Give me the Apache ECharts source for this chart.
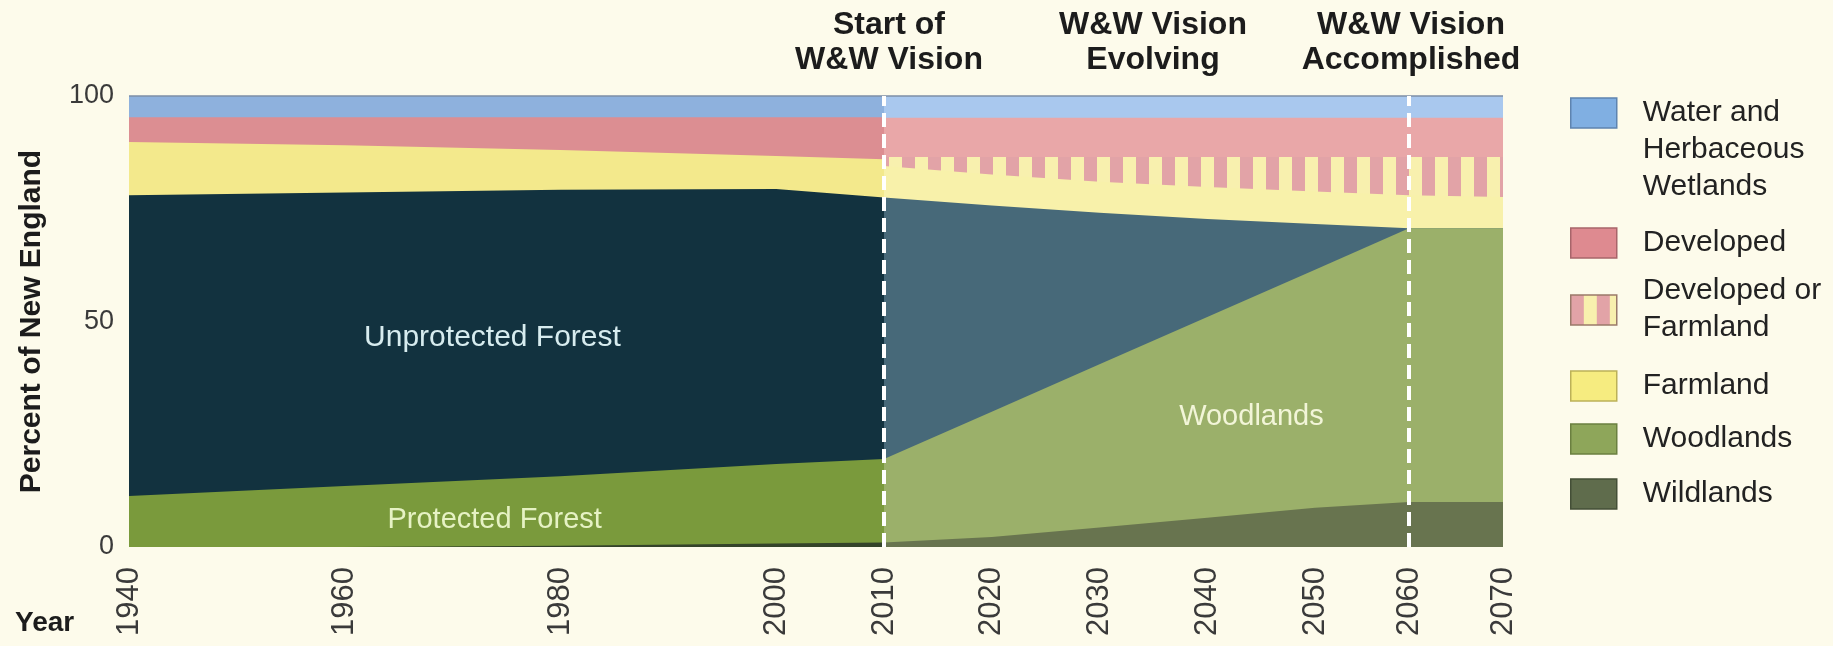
<!DOCTYPE html>
<html>
<head>
<meta charset="UTF-8">
<title>Wildlands and Woodlands</title>
<script src="https://cdn.jsdelivr.net/npm/echarts@6/dist/echarts.min.js"></script>
<style>
  html, body { margin: 0; padding: 0; background: #fdfbeb; }
  #main { width: 1833px; height: 646px; }
</style>
</head>
<body>
<div id="main"></div>
<script type="text/javascript">
// years on the axis
var yearsPast = [1940, 1960, 1980, 2000, 2010];
var yearsVision = [2010, 2020, 2030, 2040, 2050, 2060, 2070];
var tickYears = [1940, 1960, 1980, 2000, 2010, 2020, 2030, 2040, 2050, 2060, 2070];
var yTicks = [0, 50, 100];

// percent of New England 1940-2010, bottom of the stack first
var wildPast = [0, 0, 0.3, 0.8, 1.0];
var protectedPast = [11.3, 13.5, 15.4, 17.6, 18.5];
var unprotectedPast = [66.7, 65.1, 63.5, 61.0, 58.0];
var farmPast = [11.8, 10.5, 8.8, 7.3, 8.5];
var developedPast = [5.5, 6.2, 7.3, 8.6, 9.3];
var waterPast = [4.7, 4.7, 4.7, 4.7, 4.7];

// 2010-2070, the W&W vision
var wildVision = [1.0, 2.2, 4.3, 6.5, 8.7, 10.0, 10.0];
var woodVision = [18.5, 27.8, 36.2, 44.5, 52.8, 60.7, 60.7];
var unprotectedVision = [58.0, 45.7, 33.6, 21.7, 10.1, 0, 0];
var farmVision = [7.0, 6.9, 6.9, 7.1, 7.2, 7.3, 6.9];
var devOrFarmVision = [2.0, 3.9, 5.5, 6.7, 7.7, 8.5, 8.9];
var developedVision = [8.7, 8.7, 8.7, 8.7, 8.7, 8.7, 8.7];
var waterVision = [4.8, 4.8, 4.8, 4.8, 4.8, 4.8, 4.8];

var dividerYears = [2010, 2060];
var headers = ['Start of\nW&W Vision', 'W&W Vision\nEvolving', 'W&W Vision\nAccomplished'];
var legendNames = ['Water and Herbaceous Wetlands', 'Developed', 'Developed or Farmland', 'Farmland', 'Woodlands', 'Wildlands'];
var legendLabels = ['Water and\nHerbaceous\nWetlands', 'Developed', 'Developed or\nFarmland', 'Farmland', 'Woodlands', 'Wildlands'];
var areaLabels = [
  { name: 'Unprotected Forest', at: [1973.7, 46.3], color: '#d7ecef', size: 30 },
  { name: 'Protected Forest', at: [1973.9, 6.0], color: '#e6f2c4', size: 29 },
  { name: 'Woodlands', at: [2044.1, 28.9], color: '#f2f5d8', size: 29 }
];

var FONT = '"Liberation Sans", Arial, Helvetica, sans-serif';

// vertical pink / yellow stripes
function stripes(offset) {
  var c = document.createElement('canvas');
  c.width = 26; c.height = 4;
  var ctx = c.getContext('2d');
  ctx.fillStyle = '#f8f0ae';
  ctx.fillRect(0, 0, 26, 4);
  ctx.fillStyle = '#e2a3a7';
  ctx.fillRect(0, 0, 13, 4);
  return { image: c, repeat: 'repeat', x: offset };
}
var stripeFill = stripes(18);
var stripeIcon = stripes(0);

// the time axis is drawn in three pieces, as in the original figure
var grids = [
  { left: 129, width: 755, min: 1940, max: 2010 },
  { left: 884, width: 431, min: 2010, max: 2050 },
  { left: 1315, width: 188, min: 2050, max: 2070 }
];
var plotTop = 96, plotHeight = 451;

var phases = [
  { years: yearsPast, layers: [
    { name: 'Wildlands', values: wildPast, color: '#34432a' },
    { name: 'Protected Forest', values: protectedPast, color: '#7a9a3c' },
    { name: 'Unprotected Forest', values: unprotectedPast, color: '#12323f' },
    { name: 'Farmland', values: farmPast, color: '#f3e98c' },
    { name: 'Developed', values: developedPast, color: '#dc8e92' },
    { name: 'Water and Herbaceous Wetlands', values: waterPast, color: '#8eb1dd', edge: true }
  ] },
  { years: yearsVision, layers: [
    { name: 'Wildlands', values: wildVision, color: '#68744f' },
    { name: 'Woodlands', values: woodVision, color: '#9bb06a' },
    { name: 'Unprotected Forest', values: unprotectedVision, color: '#476979' },
    { name: 'Farmland', values: farmVision, color: '#f8f1aa' },
    { name: 'Developed or Farmland', values: devOrFarmVision, color: stripeFill },
    { name: 'Developed', values: developedVision, color: '#e9a7a8' },
    { name: 'Water and Herbaceous Wetlands', values: waterVision, color: '#a9c8ee', edge: true }
  ] }
];

// each band is filled from its running total down to 0; the top band is drawn first
var series = [];
var lastSeries = [];
phases.forEach(function (phase) {
  var run = phase.years.map(function () { return 0; });
  var tops = phase.layers.map(function (layer) {
    run = run.map(function (v, i) { return Math.round((v + layer.values[i]) * 100) / 100; });
    return run;
  });
  grids.forEach(function (g, gi) {
    for (var k = phase.layers.length - 1; k >= 0; k--) {
      var layer = phase.layers[k];
      var pts = [];
      phase.years.forEach(function (y, i) {
        if (y >= g.min && y <= g.max) pts.push([y, tops[k][i]]);
      });
      if (pts.length < 2) continue;
      var s = {
        type: 'line',
        name: layer.name,
        xAxisIndex: gi,
        yAxisIndex: gi,
        data: pts,
        symbol: 'none',
        showSymbol: false,
        silent: true,
        clip: false,
        lineStyle: layer.edge ? { width: 1.5, color: '#7d8ea6' } : { width: 0 },
        itemStyle: { color: layer.color },
        areaStyle: { color: layer.color, opacity: 1, origin: 'start' }
      };
      series.push(s);
      lastSeries[gi] = s;
    }
  });
});

function gridOf(year, fromLeft) {
  for (var i = 0; i < grids.length; i++) {
    if (year >= grids[i].min && (year < grids[i].max || (!fromLeft && year === grids[i].max))) return i;
  }
  return grids.length - 1;
}

// white dashed dividers
dividerYears.forEach(function (yr) {
  var s = lastSeries[gridOf(yr, true)];
  s.z = 4;
  s.markLine = {
    silent: true,
    symbol: ['none', 'none'],
    label: { show: false },
    lineStyle: { color: '#ffffff', width: 4, type: [14, 7], opacity: 1 },
    data: [{ xAxis: yr }]
  };
});

// labels written inside the areas
areaLabels.forEach(function (lb) {
  var s = lastSeries[gridOf(lb.at[0], false)];
  s.z = 4;
  if (!s.markPoint) {
    s.markPoint = { silent: true, symbol: 'rect', symbolSize: 1, itemStyle: { color: 'rgba(0,0,0,0)' }, data: [] };
  }
  s.markPoint.data.push({
    name: lb.name,
    coord: lb.at,
    label: { show: true, position: 'inside', formatter: '{b}', color: lb.color, fontSize: lb.size, fontFamily: FONT }
  });
});

// legend: blank spacer lines above / below each label place the entries like the figure
var LH = 37;
var legendColors = ['#80afe2', '#de8a90', stripeIcon, '#f6ec80', '#8ea65a', '#5f6c4c'];
var legendBorders = ['#5e84b0', '#a8656a', '#9a7a6a', '#bcb158', '#6b8040', '#444f37'];
var legendSpace = [[93, 19], [0, 0], [11, 12], [9, 9], [7, 7], [11, 11]];
var rich = { t: { fontSize: 30, fontFamily: FONT, color: '#222', lineHeight: LH } };
legendSpace.forEach(function (p) {
  p.forEach(function (h) { if (h > 0) rich['s' + h] = { fontSize: 1, lineHeight: h }; });
});
function legendText(name) {
  var i = legendNames.indexOf(name);
  var parts = [];
  if (legendSpace[i][0] > 0) parts.push('{s' + legendSpace[i][0] + '| }');
  legendLabels[i].split('\n').forEach(function (l) { parts.push('{t|' + l + '}'); });
  if (legendSpace[i][1] > 0) parts.push('{s' + legendSpace[i][1] + '| }');
  return parts.join('\n');
}

var headerX = [889, 1153, 1411];
var graphics = headers.map(function (t, i) {
  return {
    type: 'text', x: headerX[i], y: 8, silent: true,
    style: { text: t, fontSize: 32, fontWeight: 'bold', fontFamily: FONT, fill: '#1c1c1c',
      align: 'center', textAlign: 'center', verticalAlign: 'top', lineHeight: 35 }
  };
});
graphics.push({
  type: 'text', x: 15, y: 623, silent: true,
  style: { text: 'Year', fontSize: 28, fontWeight: 'bold', fontFamily: FONT, fill: '#1c1c1c',
    align: 'left', verticalAlign: 'middle', textVerticalAlign: 'middle' }
});

var option = {
  backgroundColor: '#fdfbeb',
  animation: false,
  legend: {
    orient: 'vertical',
    left: 1570,
    top: 1.5,
    padding: 0,
    itemGap: 0,
    itemWidth: 46,
    itemHeight: 30,
    selectedMode: false,
    formatter: legendText,
    textStyle: { padding: [0, 0, 0, 21], backgroundColor: 'rgba(0,0,0,0)', rich: rich },
    data: legendNames.map(function (name, i) {
      return {
        name: name,
        icon: 'rect',
        itemStyle: { color: legendColors[i], borderColor: legendBorders[i], borderWidth: 1.5 }
      };
    })
  },
  graphic: graphics,
  grid: grids.map(function (g) {
    return { left: g.left, width: g.width, top: plotTop, height: plotHeight, containLabel: false };
  }),
  xAxis: grids.map(function (g, gi) {
    var shown = tickYears.filter(function (t) {
      return t <= g.max && (gi === 0 ? t >= g.min : t > g.min);
    });
    return {
      type: 'value',
      gridIndex: gi,
      min: g.min,
      max: g.max,
      interval: 10,
      axisLine: { show: false },
      axisTick: { show: false },
      splitLine: { show: false },
      axisLabel: {
        rotate: 90,
        margin: 20,
        fontSize: 31,
        fontFamily: FONT,
        color: '#3a3a3a',
        showMinLabel: true,
        showMaxLabel: true,
        formatter: function (v) { return shown.indexOf(v) >= 0 ? String(v) : ''; }
      }
    };
  }),
  yAxis: grids.map(function (g, gi) {
    return {
      type: 'value',
      gridIndex: gi,
      show: gi === 0,
      min: yTicks[0],
      max: yTicks[yTicks.length - 1],
      interval: yTicks[1] - yTicks[0],
      name: gi === 0 ? 'Percent of New England' : '',
      nameLocation: 'middle',
      nameRotate: 90,
      nameGap: 82,
      nameTextStyle: { fontSize: 30, fontWeight: 'bold', fontFamily: FONT, color: '#1c1c1c' },
      axisLine: { show: false },
      axisTick: { show: false },
      splitLine: { show: false },
      axisLabel: { fontSize: 27, fontFamily: FONT, color: '#3a3a3a', margin: 15 }
    };
  }),
  series: series
};

var myChart = echarts.init(document.getElementById('main'));
myChart.setOption(option);
</script>
</body>
</html>
